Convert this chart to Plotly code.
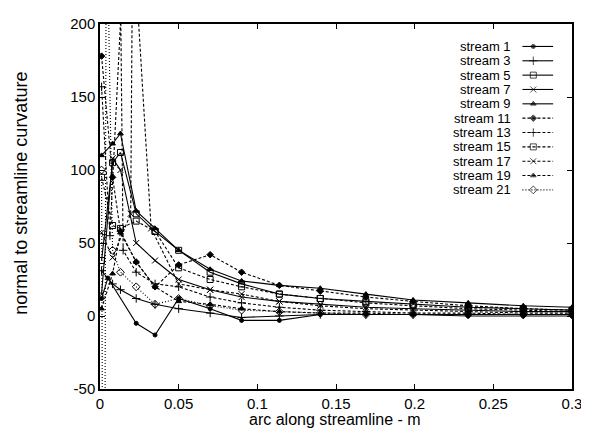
import plotly.graph_objects as go

# ---- data ----
grid15 = [0.001, 0.008, 0.013, 0.023, 0.035, 0.05, 0.07, 0.09, 0.114, 0.14, 0.169, 0.199, 0.234, 0.269, 0.3]

s1_x = [0.001, 0.005, 0.023, 0.035, 0.05, 0.07, 0.09, 0.114, 0.14, 0.169, 0.199, 0.234, 0.269, 0.3]
s1_y = [12, 26, -5, -13, 12, 5, -3, -3, 1, 1, 1, 0, 0, 0]

s3_x = grid15
s3_y = [31, 22, 18, 12, 8, 5, 2, -1, 0, 1, 1, 1, 1, 1, 1]

s5_x = grid15
s5_y = [38, 105, 112, 70, 58, 45, 30, 22, 15, 12, 10, 8, 6, 5, 4]

s7_x = grid15
s7_y = [15, 108, 100, 50, 38, 25, 18, 13, 10, 8, 6, 5, 4, 3, 3]

s9_x = grid15
s9_y = [110, 118, 125, 72, 60, 45, 32, 24, 21, 19, 15, 11, 9, 7, 6]

s11_x = grid15
s11_y = [178, 95, 58, 37, 20, 35, 42, 30, 21, 17, 13, 10, 7, 5, 4]

s13_x = [0.001, 0.0063, 0.0132, 0.0147, 0.023, 0.035, 0.05, 0.07, 0.09, 0.114, 0.14, 0.169, 0.199, 0.234, 0.269, 0.3]
s13_y = [157, 55, 205, 45, 30, 22, 20, 13, 9, 6, 4, 3, 2, 2, 1, 1]

s15_x = grid15
s15_y = [95, 62, 60, 65, 58, 33, 25, 20, 15, 12, 9, 7, 5, 4, 3]

s17_x = [0.001, 0.008, 0.0195, 0.0208, 0.0325, 0.05, 0.07, 0.09, 0.114, 0.14, 0.169, 0.199, 0.234, 0.269, 0.3]
s17_y = [57, 40, 70, 267, 60, 22, 18, 15, 10, 7, 5, 4, 3, 2, 2]

s19_x = grid15
s19_y = [5, 29, 57, 37, 20, 10, 8, 5, 3, 2, 2, 1, 1, 1, 1]

s21_x = [0.001, 0.0025, 0.004, 0.008, 0.013, 0.023, 0.035, 0.05, 0.07, 0.09, 0.114, 0.14, 0.169, 0.199, 0.234, 0.269, 0.3]
s21_y = [100, -400, 300, 45, 30, 20, 8, 12, 7, 4, 3, 2, 1, 1, 1, 1, 1]

names = ["stream 1", "stream 3", "stream 5", "stream 7", "stream 9", "stream 11",
         "stream 13", "stream 15", "stream 17", "stream 19", "stream 21"]
xs = [s1_x, s3_x, s5_x, s7_x, s9_x, s11_x, s13_x, s15_x, s17_x, s19_x, s21_x]
ys = [s1_y, s3_y, s5_y, s7_y, s9_y, s11_y, s13_y, s15_y, s17_y, s19_y, s21_y]

x_ticks = [0, 0.05, 0.1, 0.15, 0.2, 0.25, 0.3]
x_tick_labels = ["0", "0.05", "0.1", "0.15", "0.2", "0.25", "0.3"]
y_ticks = [-50, 0, 50, 100, 150, 200]
y_tick_labels = ["-50", "0", "50", "100", "150", "200"]

# ---- styles ----
symbols = ["circle", "cross-thin-open", "square-open", "x-thin-open", "triangle-up",
           "diamond", "cross-thin-open", "square-open", "x-thin-open", "triangle-up",
           "diamond-open"]
sizes = [4, 6, 6, 6, 5, 5, 6, 6, 6, 5, 6]
dashes = ["solid"] * 5 + ["3px,2px"] * 5 + ["1px,2px"]

FONT = "Liberation Sans, Arial, Helvetica, sans-serif"

fig = go.Figure()
for n, x, y, sym, sz, d in zip(names, xs, ys, symbols, sizes, dashes):
    fig.add_trace(go.Scatter(
        x=x, y=y, name=n, mode="lines+markers", showlegend=False,
        line=dict(color="black", width=1.1, dash=d),
        marker=dict(symbol=sym, size=sz, color="black",
                    line=dict(color="black", width=1)),
    ))

# gnuplot-style key: text right-aligned, sample to its right (layout positions only)
key_top = 0.9385      # fraction of plot height for first row
key_step = 0.0393     # row spacing (fraction of plot height)
key_text_x = 0.874
key_line_x0, key_line_x1, key_mark_x = 0.895, 0.960, 0.918
annotations = []
for i, (n, sym, sz, d) in enumerate(zip(names, symbols, sizes, dashes)):
    yy = key_top - i * key_step
    annotations.append(dict(text=n, xref="x2", yref="y2", x=key_text_x, y=yy,
                            xanchor="right", yanchor="middle", showarrow=False,
                            font=dict(family=FONT, size=13, color="black")))
    fig.add_trace(go.Scatter(
        x=[key_line_x0, key_mark_x, key_line_x1], y=[yy, yy, yy],
        xaxis="x2", yaxis="y2", mode="lines+markers", showlegend=False,
        hoverinfo="skip",
        line=dict(color="black", width=1.1, dash=d),
        marker=dict(symbol=sym, size=[0, sz, 0], color="black",
                    line=dict(color="black", width=1)),
    ))

axis_common = dict(
    showline=True, linecolor="black", linewidth=1.5, mirror="ticks",
    ticks="inside", ticklen=5, tickcolor="black", tickwidth=1,
    showgrid=False, zeroline=False,
    tickfont=dict(family=FONT, size=15, color="black"),
)

fig.update_xaxes(range=[0, 0.3], tickvals=x_ticks, ticktext=x_tick_labels, **axis_common)
fig.update_yaxes(range=[-50, 200], tickvals=y_ticks, ticktext=y_tick_labels, **axis_common)

annotations += [
    dict(text="arc along streamline - m", xref="paper", yref="paper",
         x=0.497, y=-0.083, xanchor="center", yanchor="middle", showarrow=False,
         font=dict(family=FONT, size=16, color="black")),
    dict(text="normal to streamline curvature", xref="paper", yref="paper",
         x=-0.168, y=0.537, xanchor="center", yanchor="middle", showarrow=False,
         textangle=-90, font=dict(family=FONT, size=18, color="black")),
]

# page body has an 8px margin: shrink the figure so the plot box lands where the reference's does
fig.update_layout(
    width=581, height=420,
    margin=dict(l=92, r=12, t=7, b=39),
    paper_bgcolor="white", plot_bgcolor="white",
    font=dict(family=FONT, color="black"),
    showlegend=False,
    xaxis2=dict(range=[0, 1], overlaying="x", visible=False, fixedrange=True),
    yaxis2=dict(range=[0, 1], overlaying="y", visible=False, fixedrange=True),
    annotations=annotations,
)

fig.write_html("out.html")
